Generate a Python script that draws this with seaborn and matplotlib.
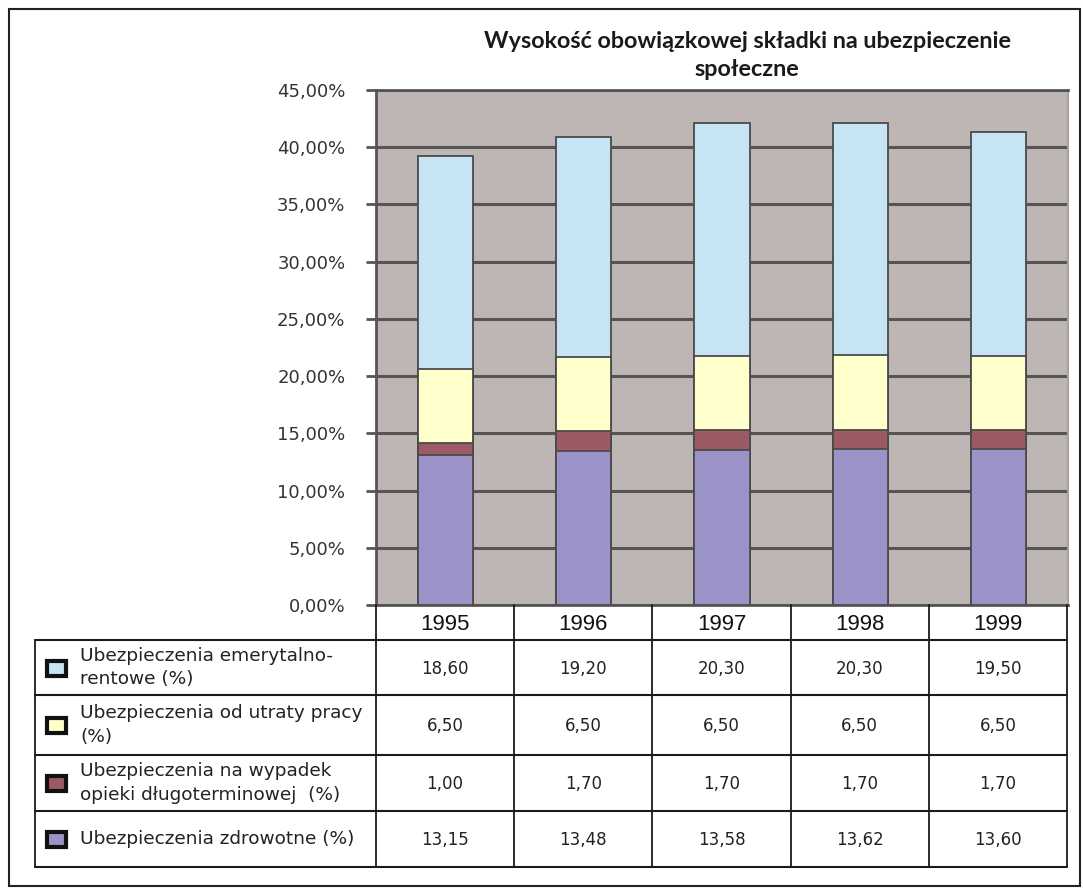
import matplotlib
matplotlib.use("Agg")
import matplotlib.pyplot as plt
import seaborn as sns
import numpy as np
import pandas as pd
from matplotlib.patches import Rectangle
from matplotlib.lines import Line2D
from matplotlib.ticker import FuncFormatter

# ---- data ----
years = ["1995", "1996", "1997", "1998", "1999"]
zdrowotne = [13.15, 13.48, 13.58, 13.62, 13.60]
opieka = [1.00, 1.70, 1.70, 1.70, 1.70]
utrata = [6.50, 6.50, 6.50, 6.50, 6.50]
emerytalne = [18.60, 19.20, 20.30, 20.30, 19.50]

series_names = [
    "Ubezpieczenia emerytalno-\nrentowe (%)",
    "Ubezpieczenia od utraty pracy\n(%)",
    "Ubezpieczenia na wypadek\nopieki długoterminowej  (%)",
    "Ubezpieczenia zdrowotne (%)",
]
title = "Wysokość obowiązkowej składki na ubezpieczenie\nspołeczne"

# stacking order bottom -> top
stack = [zdrowotne, opieka, utrata, emerytalne]
colors = ["#9B93C8", "#9C5A64", "#FFFFCC", "#C6E4F4"]

sns.set_theme(style="white")
plt.rcParams["font.family"] = ["Liberation Sans", "DejaVu Sans"]

W, H = 1083, 890
fig = plt.figure(figsize=(W / 100, H / 100), dpi=100)
fig.patch.set_facecolor("white")

L, R, T, B = 376, 1068, 90, 605
ax = fig.add_axes([L / W, 1 - B / H, (R - L) / W, (B - T) / H])
ax.set_facecolor("#BEB6B4")

cum = np.cumsum(np.array(stack), axis=0)
df = pd.DataFrame({"year": years})
for i in range(len(stack) - 1, -1, -1):
    df["v"] = cum[i]
    sns.barplot(data=df, x="year", y="v", color=colors[i], width=0.4,
                edgecolor="#4a4a4a", linewidth=1.3, saturation=1, ax=ax,
                zorder=3)

ax.set_ylim(0, 45)
ax.set_yticks(np.arange(0, 46, 5))
ax.yaxis.set_major_formatter(FuncFormatter(lambda v, p: f"{v:.2f}%".replace(".", ",")))
ax.grid(axis="y", color="#555555", linewidth=2.2, zorder=0)
ax.set_axisbelow(True)
ax.set_xlabel("")
ax.set_ylabel("")
ax.set_xticks([])
ax.tick_params(axis="y", left=True, length=7, width=2, color="#555555",
               labelsize=13, pad=15)
for lab in ax.get_yticklabels():
    lab.set_family(["DejaVu Sans"])
    lab.set_color("#333333")
for s in ["top", "left", "bottom"]:
    ax.spines[s].set_color("#555555")
    ax.spines[s].set_linewidth(2)
ax.spines["right"].set_color("#A9A1A0")
ax.spines["right"].set_linewidth(1.5)
ax.set_xlim(-0.5, 4.5)

# ---- overlay in pixel coords for table, title and frame ----
ov = fig.add_axes([0, 0, 1, 1], zorder=10)
ov.set_xlim(0, W)
ov.set_ylim(H, 0)
ov.axis("off")
ov.patch.set_alpha(0)

ov.add_patch(Rectangle((9, 9), W - 12, H - 13, fill=False, edgecolor="#222222", lw=1.5))

ov.text(747, 42, title.split("\n")[0], ha="center", va="center", fontsize=16.8,
        fontweight="bold", family=["Lato", "DejaVu Sans"], color="#1a1a1a")
ov.text(747, 70, title.split("\n")[1], ha="center", va="center", fontsize=16.8,
        fontweight="bold", family=["Lato", "DejaVu Sans"], color="#1a1a1a")

col_x = [35] + list(np.linspace(L, R - 1, 6))
row_y = [640, 695, 755, 811, 867]
lc = "#1a1a1a"
for x in col_x[1:]:
    ov.add_line(Line2D([x, x], [B, 640], color=lc, lw=1.3))
for y in row_y:
    ov.add_line(Line2D([col_x[0], col_x[-1]], [y, y], color=lc, lw=1.5))
for x in col_x:
    ov.add_line(Line2D([x, x], [640, row_y[-1]], color=lc, lw=1.3))

for j, yr in enumerate(years):
    cx = (col_x[j + 1] + col_x[j + 2]) / 2
    ov.text(cx, 624, yr, ha="center", va="center", fontsize=16, color="#111111")

table_vals = [emerytalne, utrata, opieka, zdrowotne]
swatch_cols = [colors[3], colors[2], colors[1], colors[0]]
for r in range(4):
    y0, y1 = row_y[r], row_y[r + 1]
    cy = (y0 + y1) / 2
    ov.add_patch(Rectangle((47, cy - 7), 19, 15, facecolor=swatch_cols[r],
                           edgecolor="#111111", lw=3))
    ov.text(80, cy, series_names[r], ha="left", va="center", fontsize=13.3,
            family=["DejaVu Sans"], color="#222222", linespacing=1.4)
    for j in range(5):
        cx = (col_x[j + 1] + col_x[j + 2]) / 2
        ov.text(cx, cy + 1, f"{table_vals[r][j]:.2f}".replace(".", ","),
                ha="center", va="center", fontsize=12, family=["DejaVu Sans"],
                color="#222222")

fig.savefig("out.png", dpi=100)
